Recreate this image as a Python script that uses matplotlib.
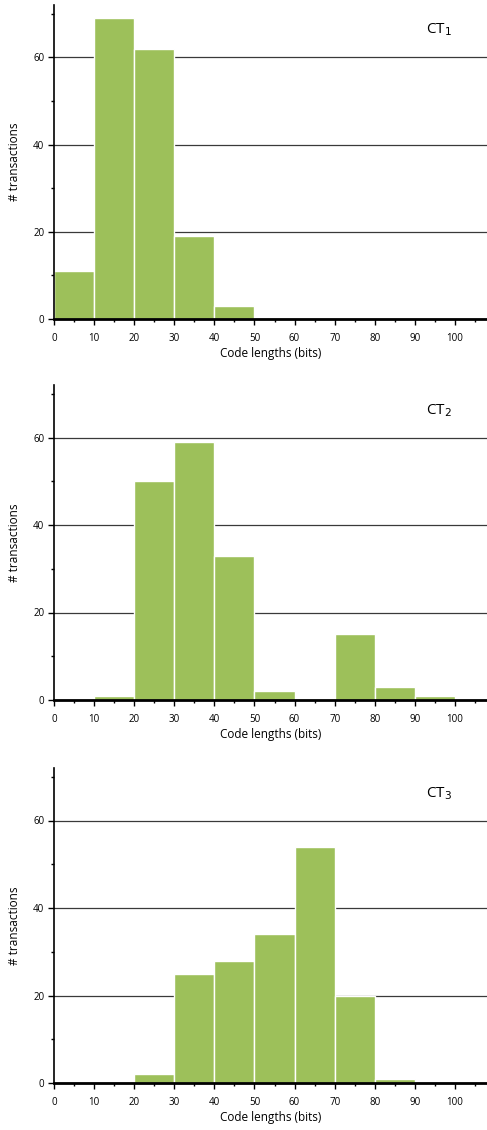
import numpy as np
import matplotlib.pyplot as plt
from matplotlib.ticker import MultipleLocator

plt.rcParams['font.family'] = ['Open Sans', 'DejaVu Sans']

# bin edges of the histograms (bits)
bin_left = [0, 10, 20, 30, 40, 50, 60, 70, 80, 90]
titles = ["CT$_1$", "CT$_2$", "CT$_3$"]

# counts per bin
ct1_counts = [11, 69, 62, 19, 3, 0, 0, 0, 0, 0]
ct2_counts = [0, 1, 50, 59, 33, 2, 0, 15, 3, 1]
ct3_counts = [0, 0, 2, 25, 28, 34, 54, 20, 1, 0]

all_counts = [ct1_counts, ct2_counts, ct3_counts]

fig = plt.figure(figsize=(4.87, 11.3), dpi=100)

# axes boxes in pixels (top, bottom) -> figure fraction
tops = [5, 385, 768]
bottoms = [319, 700, 1083]
H = 1130.0
left = 54 / 487.0

for k in range(3):
    ax = fig.add_axes([left, 1 - bottoms[k] / H, 1 - left, (bottoms[k] - tops[k]) / H])
    counts = all_counts[k]
    ax.bar(bin_left, counts, width=10, align="edge", color="#9dc05a",
           edgecolor="white", linewidth=1.0, zorder=3)
    ax.set_xlim(0, 108)
    ax.set_ylim(0, 72)
    ax.set_yticks([0, 20, 40, 60])
    ax.yaxis.set_minor_locator(MultipleLocator(10))
    ax.set_xticks(range(0, 101, 10))
    ax.xaxis.set_minor_locator(MultipleLocator(5))
    ax.grid(axis="y", color="#3a3a3a", linewidth=0.9, zorder=0)
    for s in ["top", "right"]:
        ax.spines[s].set_visible(False)
    ax.spines["left"].set_linewidth(1.2)
    ax.spines["bottom"].set_linewidth(2.0)
    ax.spines["left"].set_zorder(4)
    ax.spines["bottom"].set_zorder(4)
    ax.tick_params(axis="both", which="major", direction="out", length=4,
                   width=1, labelsize=7, pad=6, colors="black")
    ax.tick_params(axis="both", which="minor", direction="out", length=2.5, width=1)
    ax.tick_params(axis="y", which="major", pad=3)
    ax.set_xlabel("Code lengths (bits)", fontsize=8.5, labelpad=2)
    ax.set_ylabel("# transactions", fontsize=8.5, labelpad=9)
    ax.text(0.89, 0.92, titles[k], transform=ax.transAxes, fontsize=11,
            ha="center", va="center")

fig.savefig("out.png", dpi=100)
